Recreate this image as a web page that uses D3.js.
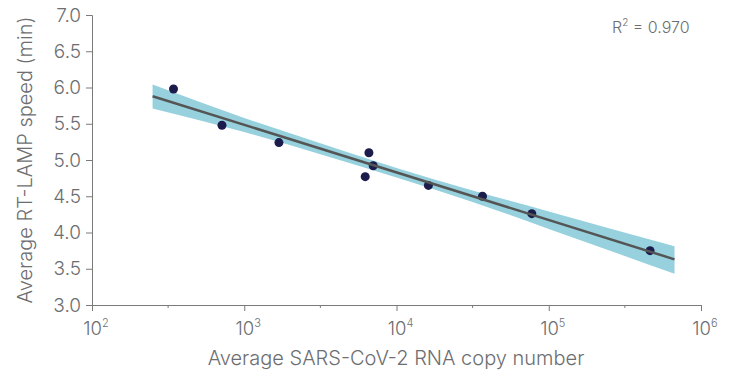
<!DOCTYPE html>
<html>
<head>
<meta charset="utf-8">
<script src="https://cdn.jsdelivr.net/npm/d3@7"></script>
<style>
  body { margin: 0; background: #fff; }
  svg text { font-family: Inter, Roboto, sans-serif; font-weight: 300; fill: #6d6e71; }
</style>
</head>
<body>
<svg id="chart" width="732" height="375"></svg>
<script>
// measured points (copy number vs. RT-LAMP speed in minutes)
const copies = [343, 714, 1690, 6590, 7030, 6230, 16200, 36700, 77400, 463000];
const speed = [5.98, 5.48, 5.24, 5.10, 4.92, 4.77, 4.65, 4.50, 4.26, 3.75];

// fitted line ends
const fitX = [250, 670000];
const fitY = [5.88, 3.63];

// confidence band
const bandX = [250, 1000, 3160, 10000, 31600, 100000, 670000];
const bandLo = [5.71, 5.385, 5.08, 4.76, 4.42, 4.05, 3.43];
const bandHi = [6.04, 5.58, 5.23, 4.89, 4.58, 4.29, 3.81];

const xTicks = [1e2, 1e3, 1e4, 1e5, 1e6];
const xMinor = [316.2, 3162, 31620, 316200];
const yTicks = [3.0, 3.5, 4.0, 4.5, 5.0, 5.5, 6.0, 6.5, 7.0];
const r2Label = "0.970";

const svg = d3.select("#chart");
const axisColor = "#7a7a7a";

const x = d3.scaleLog().domain([1e2, 1e6]).range([92, 701]);
const y = d3.scaleLinear().domain([3, 7]).range([305, 15]);

// band
const band = bandX.map((d, i) => ({ x: d, lo: bandLo[i], hi: bandHi[i] }));
svg.append("path")
  .datum(band)
  .attr("fill", "#96d1dd")
  .attr("d", d3.area()
    .curve(d3.curveMonotoneX)
    .x(d => x(d.x))
    .y0(d => y(d.lo))
    .y1(d => y(d.hi)));

// points
svg.selectAll("circle.pt")
  .data(copies)
  .enter()
  .append("circle")
  .attr("class", "pt")
  .attr("cx", d => x(d))
  .attr("cy", (d, i) => y(speed[i]))
  .attr("r", 4.5)
  .attr("fill", "#1b1c4b");

// regression line
svg.append("line")
  .attr("x1", x(fitX[0])).attr("y1", y(fitY[0]))
  .attr("x2", x(fitX[1])).attr("y2", y(fitY[1]))
  .attr("stroke", "#555555")
  .attr("stroke-width", 2.5);

// y axis
const yAxis = svg.append("g")
  .attr("transform", "translate(92,0)")
  .call(d3.axisLeft(y).tickValues(yTicks).tickFormat(d3.format(".1f")).tickSize(6).tickPadding(5));
yAxis.select(".domain").attr("stroke", axisColor);
yAxis.selectAll(".tick line").attr("stroke", axisColor);
yAxis.selectAll(".tick text")
  .style("font-size", "19px")
  .style("font-family", null);

// x axis
const xAxis = svg.append("g")
  .attr("transform", "translate(0,305)")
  .call(d3.axisBottom(x).tickValues(xTicks).tickFormat("").tickSize(6));
xAxis.select(".domain").attr("stroke", axisColor);
xAxis.selectAll(".tick line").attr("stroke", axisColor);

xAxis.selectAll(".minor")
  .data(xMinor)
  .enter()
  .append("line")
  .attr("class", "minor")
  .attr("x1", d => x(d)).attr("x2", d => x(d))
  .attr("y1", 0).attr("y2", 3)
  .attr("stroke", axisColor);

const xLab = xAxis.selectAll(".xlab")
  .data(xTicks)
  .enter()
  .append("text")
  .attr("class", "xlab")
  .attr("x", d => x(d) + 4)
  .attr("y", 30)
  .attr("text-anchor", "middle")
  .style("font-size", "18.5px");
xLab.append("tspan").text("10");
xLab.append("tspan")
  .attr("dy", -8)
  .style("font-size", "11px")
  .text(d => Math.round(Math.log10(d)));

// axis titles
svg.append("text")
  .attr("x", 396)
  .attr("y", 365)
  .attr("text-anchor", "middle")
  .style("font-size", "20px")
  .text("Average SARS-CoV-2 RNA copy number");

svg.append("text")
  .attr("transform", "translate(32,160) rotate(-90)")
  .attr("text-anchor", "middle")
  .style("font-size", "20px")
  .text("Average RT-LAMP speed (min)");

// R squared
const r2 = svg.append("text")
  .attr("x", 612)
  .attr("y", 33)
  .style("font-size", "16px");
r2.append("tspan").text("R");
r2.append("tspan").attr("dy", -7).style("font-size", "10px").text("2");
r2.append("tspan").attr("dy", 7).text(" = " + r2Label);
</script>
</body>
</html>
